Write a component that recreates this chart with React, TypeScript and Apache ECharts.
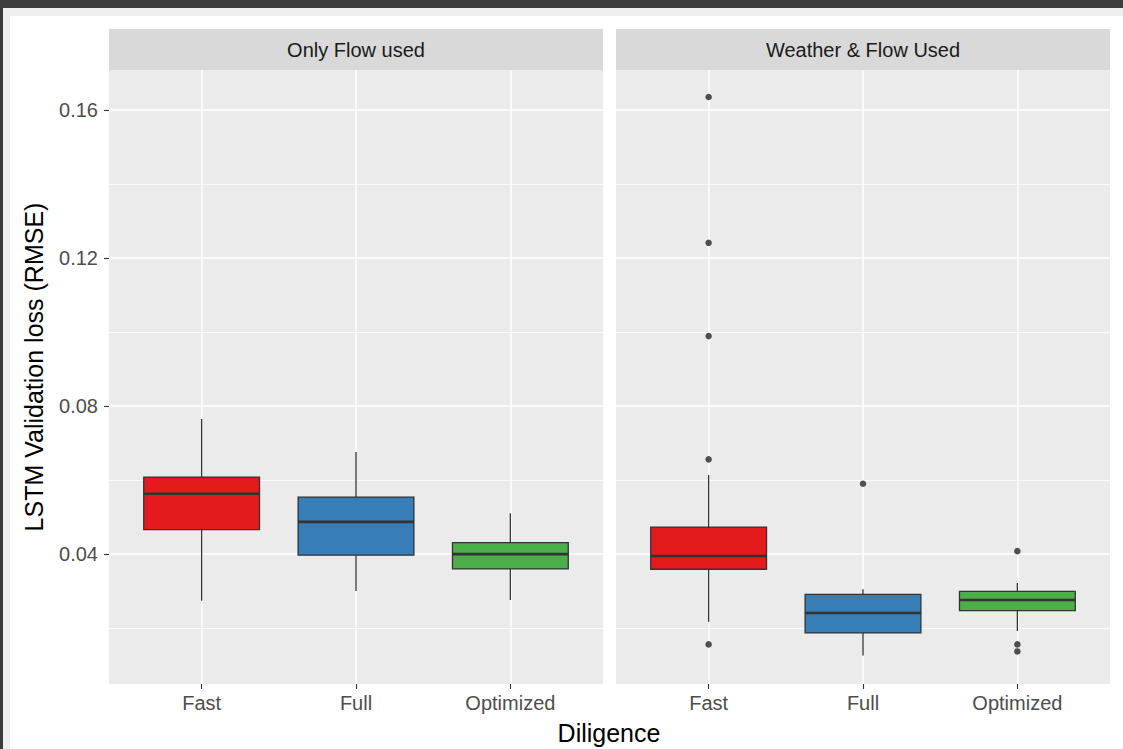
import React, { useEffect, useRef } from "react";
import * as echarts from "echarts";

const categories = ["Fast", "Full", "Optimized"];
const panelTitles = ["Only Flow used", "Weather & Flow Used"];
const boxColors = ["#E41A1C", "#377EB8", "#4DAF4A"];
const yTicks = [0.04, 0.08, 0.12, 0.16];
const yMinorTicks = [0.02, 0.06, 0.1, 0.14];

// [min, q1, median, q3, max] per category
const flowOnlyBoxes = [
  [0.0274, 0.0466, 0.0563, 0.0608, 0.0765],
  [0.03, 0.0397, 0.0487, 0.0554, 0.0676],
  [0.0276, 0.036, 0.04, 0.0431, 0.051],
];
const weatherFlowBoxes = [
  [0.0217, 0.0359, 0.0395, 0.0473, 0.0614],
  [0.0126, 0.0187, 0.0241, 0.0291, 0.0305],
  [0.0192, 0.0247, 0.0276, 0.0299, 0.0322],
];
// [categoryIndex, value]
const flowOnlyOutliers: number[][] = [];
const weatherFlowOutliers = [
  [0, 0.1635],
  [0, 0.1241],
  [0, 0.0989],
  [0, 0.0656],
  [0, 0.0156],
  [1, 0.059],
  [2, 0.0408],
  [2, 0.0156],
  [2, 0.0137],
];

const Y_MIN = 0.0049;
const Y_MAX = 0.1708;
const FONT = "'Liberation Sans', Arial, sans-serif";

const panels = [
  { left: 109, boxes: flowOnlyBoxes, outliers: flowOnlyOutliers },
  { left: 616, boxes: weatherFlowBoxes, outliers: weatherFlowOutliers },
];
const PANEL_W = 494;
const PANEL_TOP = 70;
const PANEL_H = 614;

function renderBox(params: any, api: any) {
  const x = api.value(0);
  const mn = api.coord([x, api.value(1)]);
  const q1 = api.coord([x, api.value(2)]);
  const med = api.coord([x, api.value(3)]);
  const q3 = api.coord([x, api.value(4)]);
  const mx = api.coord([x, api.value(5)]);
  const halfW = api.size([0.75, 0])[0] / 2;
  const cx = med[0];
  const color = api.visual("color");
  const stroke = "#333333";
  return {
    type: "group",
    children: [
      { type: "line", shape: { x1: cx, y1: mx[1], x2: cx, y2: q3[1] }, style: { stroke, lineWidth: 1.3 } },
      { type: "line", shape: { x1: cx, y1: q1[1], x2: cx, y2: mn[1] }, style: { stroke, lineWidth: 1.3 } },
      {
        type: "rect",
        shape: { x: cx - halfW, y: q3[1], width: halfW * 2, height: q1[1] - q3[1] },
        style: { fill: color, stroke, lineWidth: 1.3 },
      },
      {
        type: "line",
        shape: { x1: cx - halfW, y1: med[1], x2: cx + halfW, y2: med[1] },
        style: { stroke, lineWidth: 2.6 },
      },
    ],
  };
}

export default function App() {
  const ref = useRef<HTMLDivElement>(null);
  useEffect(() => {
    if (!ref.current) return;
    const chart = echarts.init(ref.current, undefined, { renderer: "svg" });

    const grid = panels.map((p) => ({
      left: p.left,
      top: PANEL_TOP,
      width: PANEL_W,
      height: PANEL_H,
      show: true,
      backgroundColor: "#EBEBEB",
      borderWidth: 0,
    }));

    const xAxis = panels.map((_, i) => ({
      type: "value",
      gridIndex: i,
      min: 0.4,
      max: 3.6,
      axisLine: { show: false },
      axisTick: { show: true, customValues: [1, 2, 3], length: 5, lineStyle: { color: "#333333", width: 1.1 } },
      axisLabel: {
        customValues: [1, 2, 3],
        formatter: (v: number) => categories[Math.round(v) - 1] ?? "",
        color: "#4D4D4D",
        fontSize: 20,
        fontFamily: FONT,
        margin: 9,
      },
      splitLine: { show: true, lineStyle: { color: "#FFFFFF", width: 1.5 } },
    }));

    const yAxis = panels.map((_, i) => ({
      type: "value",
      gridIndex: i,
      min: Y_MIN,
      max: Y_MAX,
      axisLine: { show: false },
      axisTick: {
        show: i === 0,
        customValues: yTicks,
        length: 5,
        lineStyle: { color: "#333333", width: 1.1 },
      },
      axisLabel: {
        show: i === 0,
        customValues: yTicks,
        formatter: (v: number) => v.toFixed(2),
        color: "#4D4D4D",
        fontSize: 20,
        fontFamily: FONT,
        margin: 11,
      },
      splitLine: { show: true, lineStyle: { color: "#FFFFFF", width: 1.5 } },
    }));

    const series: any[] = [];
    panels.forEach((p, i) => {
      series.push({
        type: "line",
        xAxisIndex: i,
        yAxisIndex: i,
        data: [],
        z: 1,
        silent: true,
        markLine: {
          z: 1,
          silent: true,
          symbol: ["none", "none"],
          label: { show: false },
          lineStyle: { color: "#FFFFFF", width: 0.8, type: "solid" },
          emphasis: { disabled: true },
          data: yMinorTicks.map((v) => ({ yAxis: v })),
        },
      });
      series.push({
        type: "custom",
        xAxisIndex: i,
        yAxisIndex: i,
        z: 6,
        renderItem: renderBox,
        encode: { x: 0, y: [1, 2, 3, 4, 5] },
        data: p.boxes.map((b, ci) => ({
          value: [ci + 1, ...b],
          itemStyle: { color: boxColors[ci] },
        })),
      });
      series.push({
        type: "scatter",
        xAxisIndex: i,
        yAxisIndex: i,
        z: 7,
        symbol: "circle",
        symbolSize: 6.5,
        itemStyle: { color: "#262626" },
        data: p.outliers.map((o) => [o[0] + 1, o[1]]),
      });
    });

    const graphic: any[] = [];
    panels.forEach((p, i) => {
      graphic.push({
        type: "rect",
        shape: { x: p.left, y: 29, width: PANEL_W, height: 41 },
        style: { fill: "#D9D9D9" },
        silent: true,
      });
      graphic.push({
        type: "text",
        x: p.left + PANEL_W / 2,
        y: 50,
        style: {
          text: panelTitles[i],
          fill: "#1A1A1A",
          font: `20px ${FONT}`,
          textAlign: "center",
          textVerticalAlign: "middle",
        },
        silent: true,
      });
    });
    graphic.push({
      type: "text",
      x: 34,
      y: 367,
      rotation: Math.PI / 2,
      style: {
        text: "LSTM Validation loss (RMSE)",
        fill: "#000000",
        font: `25px ${FONT}`,
        textAlign: "center",
        textVerticalAlign: "middle",
      },
      silent: true,
    });
    graphic.push({
      type: "text",
      x: 609,
      y: 733,
      style: {
        text: "Diligence",
        fill: "#000000",
        font: `25px ${FONT}`,
        textAlign: "center",
        textVerticalAlign: "middle",
      },
      silent: true,
    });

    chart.setOption({
      animation: false,
      backgroundColor: "transparent",
      grid,
      xAxis,
      yAxis,
      series,
      graphic,
    });
    return () => chart.dispose();
  }, []);

  return (
    <div style={{ position: "fixed", left: 0, top: 0, width: 1123, height: 749, background: "#3C3C3C", overflow: "hidden" }}>
      <div style={{ position: "absolute", left: 3, top: 8, right: 0, bottom: 0, background: "#EFEFEF" }} />
      <div style={{ position: "absolute", left: 10, top: 16, right: 0, bottom: 0, background: "#FFFFFF" }} />
      <div ref={ref} style={{ position: "absolute", left: 0, top: 0, width: 1123, height: 749 }} />
    </div>
  );
}
